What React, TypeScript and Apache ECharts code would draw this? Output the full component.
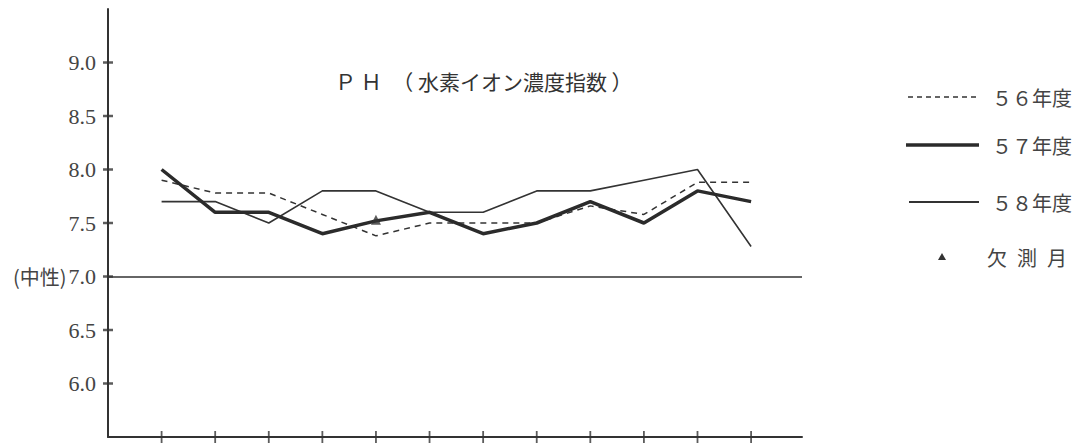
import React, { useEffect, useRef } from "react";
import * as echarts from "echarts";

// months (April .. March), plotted at positions 1..12
const months = ["4月", "5月", "6月", "7月", "8月", "9月", "10月", "11月", "12月", "1月", "2月", "3月"];
const fy56 = [7.9, 7.78, 7.78, 7.58, 7.38, 7.5, 7.5, 7.5, 7.66, 7.58, 7.88, 7.88];
const fy57 = [8.0, 7.6, 7.6, 7.4, 7.52, 7.6, 7.4, 7.5, 7.7, 7.5, 7.8, 7.7];
const fy58 = [7.7, 7.7, 7.5, 7.8, 7.8, 7.6, 7.6, 7.8, 7.8, 7.9, 8.0, 7.28];
const missingMonthIndex = [4];
const missingMonthValue = [7.53];
const yTickValues = [6.0, 6.5, 7.0, 7.5, 8.0, 8.5, 9.0];
const yTickLabels = ["6.0", "6.5", "7.0", "7.5", "8.0", "8.5", "9.0"];
const neutralLabel = "(中性)";
const neutralValue = 7.0;
const legendNames = ["５６年度", "５７年度", "５８年度", "欠\u2002測\u2002月"];
const titleText = "Ｐ Ｈ　（ 水素イオン濃度指数 ）";

const INK = "#333";
const TEXT = "#444";
const CJK = "Noto Sans CJK JP";
const SERIF = "Liberation Serif";
const Y_MIN = 5.5;
const X_MIN = 0;

const toPoints = (vals: number[]) => vals.map((v, i) => [i + 1, v]);
const xTickValues = months.map((_, i) => i + 1);

export default function App() {
  const ref = useRef<HTMLDivElement>(null);
  useEffect(() => {
    if (!ref.current) return;
    const chart = echarts.init(ref.current, undefined, { renderer: "svg" });
    const yLabelFormatter = (v: number) => {
      const idx = yTickValues.findIndex((t) => Math.abs(t - v) < 1e-6);
      if (idx < 0) return "";
      if (Math.abs(v - neutralValue) < 1e-6) return `{n|${neutralLabel}}{d|${yTickLabels[idx]}}`;
      return `{d|${yTickLabels[idx]}}`;
    };
    const legendY = [97, 145, 202, 257];
    chart.setOption({
      animation: false,
      backgroundColor: "#fff",
      title: {
        text: titleText,
        left: 330,
        top: 65,
        textStyle: { fontFamily: CJK, fontSize: 21, fontWeight: "normal", color: INK },
      },
      grid: { left: 108, right: 286, top: 9, bottom: 8, containLabel: false, outerBoundsMode: "none" },
      xAxis: {
        type: "value",
        min: 0,
        max: 12.95,
        interval: 1,
        axisLine: { show: true, onZero: false, lineStyle: { color: INK, width: 2 } },
        axisTick: { show: false },
        axisLabel: { show: false },
        splitLine: { show: false },
      },
      yAxis: {
        type: "value",
        min: Y_MIN,
        max: 9.5,
        interval: 0.5,
        axisLine: { show: true, onZero: false, lineStyle: { color: INK, width: 2 } },
        axisTick: { show: false },
        axisLabel: {
          show: true,
          showMinLabel: true,
          showMaxLabel: true,
          margin: 12,
          formatter: yLabelFormatter,
          fontFamily: SERIF,
          fontSize: 22,
          color: TEXT,
          rich: {
            d: { fontFamily: SERIF, fontSize: 22, color: TEXT },
            n: { fontFamily: CJK, fontSize: 20, color: TEXT, padding: [0, 2, 0, 0] },
          },
        },
        splitLine: { show: false },
      },
      series: [
        {
          name: legendNames[0],
          type: "line",
          data: toPoints(fy56),
          symbol: "none",
          lineStyle: { color: INK, width: 1.5, type: [6, 5] },
          z: 2,
        },
        {
          name: legendNames[2],
          type: "line",
          data: toPoints(fy58),
          symbol: "none",
          lineStyle: { color: INK, width: 1.6 },
          z: 3,
          markLine: {
            silent: true,
            symbol: "none",
            label: { show: false },
            lineStyle: { color: INK, width: 1.5, type: "solid" },
            data: [{ yAxis: neutralValue }],
          },
        },
        {
          name: legendNames[1],
          type: "line",
          data: toPoints(fy57),
          symbol: "none",
          lineStyle: { color: "#2b2b2b", width: 3.5 },
          z: 4,
        },
        {
          name: legendNames[3],
          type: "scatter",
          data: missingMonthIndex.map((i, k) => [i + 1, missingMonthValue[k]]),
          symbol: "triangle",
          symbolSize: 10,
          itemStyle: { color: INK },
          z: 5,
        },
        {
          name: "xTicks",
          type: "scatter",
          silent: true,
          clip: false,
          data: xTickValues.map((x) => [x, Y_MIN]),
          symbol: "rect",
          symbolSize: [1.8, 12],
          itemStyle: { color: INK },
          z: 6,
        },
        {
          name: "yTicks",
          type: "scatter",
          silent: true,
          clip: false,
          data: yTickValues.map((y) => [X_MIN, y]),
          symbol: "rect",
          symbolSize: [10, 2.5],
          itemStyle: { color: INK },
          z: 6,
        },
      ],
      graphic: [
        { type: "line", shape: { x1: 908, y1: legendY[0], x2: 976, y2: legendY[0] }, style: { stroke: INK, lineWidth: 1.5, lineDash: [5, 4] } },
        { type: "line", shape: { x1: 906, y1: legendY[1], x2: 979, y2: legendY[1] }, style: { stroke: "#2b2b2b", lineWidth: 3.5 } },
        { type: "line", shape: { x1: 909, y1: legendY[2], x2: 979, y2: legendY[2] }, style: { stroke: INK, lineWidth: 2 } },
        { type: "polygon", shape: { points: [[938, legendY[3] + 3], [946, legendY[3] + 3], [942, legendY[3] - 4]] }, style: { fill: INK } },
        ...legendNames.map((name, i) => ({
          type: "text",
          x: i === 3 ? 987 : 992,
          y: legendY[i],
          style: { text: name, fontFamily: CJK, fontSize: 20, fill: TEXT, verticalAlign: "middle" },
        })),
      ],
    });
    return () => chart.dispose();
  }, []);
  return <div ref={ref} style={{ position: "fixed", left: 0, top: 0, width: 1088, height: 445, background: "#fff" }} />;
}
